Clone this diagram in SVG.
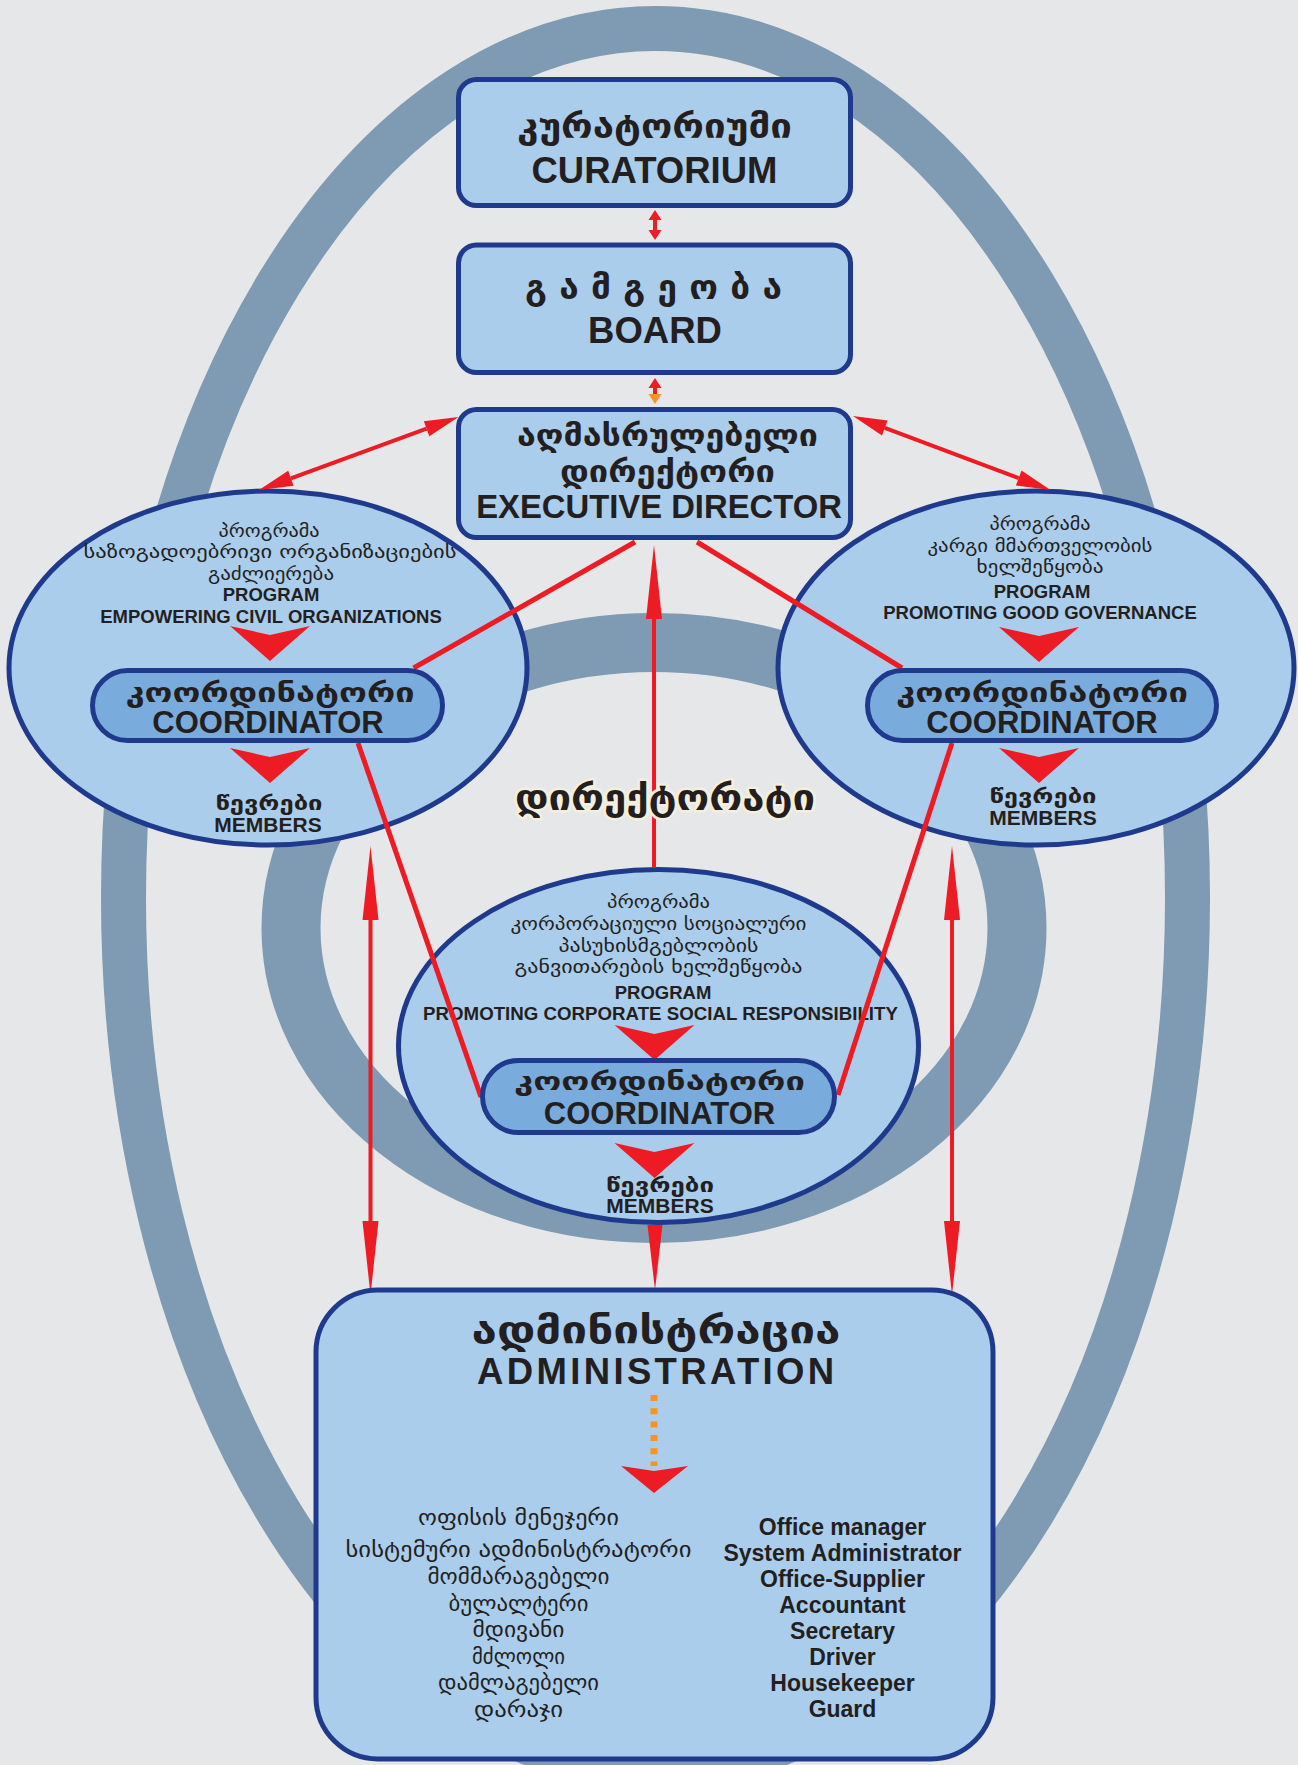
<svg xmlns="http://www.w3.org/2000/svg" width="1298" height="1765" viewBox="0 0 1298 1765">
<style>
.bg{fill:#e6e7e9}
.ring{fill:none;stroke:#7f9bb3}
.box{fill:#abcdec;stroke:#1f3a8c;stroke-width:5}
.pill{fill:#79acdd;stroke:#1f3a8c;stroke-width:5}
.en{font-family:"Liberation Sans",Arial,sans-serif;font-weight:bold;fill:#231f20;text-anchor:middle}
.ka{font-family:"DejaVu Sans","Noto Sans",sans-serif;fill:#231f20;text-anchor:middle}
.b{font-weight:bold}
.rl{stroke:#ed1c24;stroke-width:5;fill:none}
.ra{stroke:#ed1c24;stroke-width:4;fill:none}
.red{fill:#ed1c24}
.halo{stroke:#f4efdc;stroke-width:5;paint-order:stroke;stroke-linejoin:round}
</style>
<defs>
<marker id="hm" markerUnits="userSpaceOnUse" viewBox="0 -8 34 16" markerWidth="34" markerHeight="16" refX="0" refY="0" orient="auto-start-reverse" overflow="visible"><path d="M0,-8L34,0L0,8Z" fill="#ed1c24"/></marker>
<marker id="hl" markerUnits="userSpaceOnUse" viewBox="0 -8 74 16" markerWidth="74" markerHeight="16" refX="0" refY="0" orient="auto-start-reverse" overflow="visible"><path d="M0,-8L74,0L0,8Z" fill="#ed1c24"/></marker>
<marker id="hs" markerUnits="userSpaceOnUse" viewBox="0 -6.5 10 13" markerWidth="10" markerHeight="13" refX="0" refY="0" orient="auto-start-reverse" overflow="visible"><path d="M0,-6.5L10,0L0,6.5Z" fill="#ed1c24"/></marker>
<marker id="hso" markerUnits="userSpaceOnUse" viewBox="0 -6.5 10 13" markerWidth="10" markerHeight="13" refX="0" refY="0" orient="auto" overflow="visible"><path d="M0,-6.5L10,0L0,6.5Z" fill="#f7941d"/></marker>
<path id="chev" d="M-40,0L0,9L40,0L0,35Z" fill="#ed1c24"/>
</defs>

<rect class="bg" x="0" y="0" width="1298" height="1765"/>

<g id="rings">
<ellipse class="ring" cx="655.5" cy="898" rx="532" ry="869.6" stroke-width="45"/>
<ellipse class="ring" cx="654" cy="928" rx="363" ry="285.5" stroke-width="59"/>
</g>

<g id="node-curatorium">
<rect class="box" x="458.5" y="79.5" width="392" height="126" rx="18"/>
<text class="ka b" x="654.5" y="138" font-size="33" textLength="275" lengthAdjust="spacingAndGlyphs">კურატორიუმი</text>
<text class="en" x="654.5" y="183" font-size="36.5">CURATORIUM</text>
</g>

<g id="node-board">
<rect class="box" x="458.5" y="245" width="392" height="127.5" rx="18"/>
<text class="ka b" x="653.5" y="299" font-size="33" textLength="257" lengthAdjust="spacingAndGlyphs">გ ა მ გ ე ო ბ ა</text>
<text class="en" x="655" y="343" font-size="36.5">BOARD</text>
</g>

<g id="node-program-civil">
<ellipse class="box" cx="268" cy="668" rx="259" ry="177"/>
<text class="ka" x="269" y="537" font-size="18" textLength="101" lengthAdjust="spacingAndGlyphs">პროგრამა</text>
<text class="ka" x="270" y="558" font-size="18" textLength="373" lengthAdjust="spacingAndGlyphs">საზოგადოებრივი ორგანიზაციების</text>
<text class="ka" x="271" y="580" font-size="18" textLength="126" lengthAdjust="spacingAndGlyphs">გაძლიერება</text>
<text class="en" x="271" y="601" font-size="18.5">PROGRAM</text>
<text class="en" x="271" y="623" font-size="18.5">EMPOWERING CIVIL ORGANIZATIONS</text>
<use href="#chev" x="270" y="626"/>
<use href="#chev" x="270" y="748"/>
<text class="ka b" x="269" y="810" font-size="19" textLength="107" lengthAdjust="spacingAndGlyphs">წევრები</text>
<text class="en" x="268" y="832" font-size="21">MEMBERS</text>
</g>

<g id="node-program-governance">
<ellipse class="box" cx="1036" cy="668" rx="258" ry="177"/>
<text class="ka" x="1040" y="530" font-size="18" textLength="101" lengthAdjust="spacingAndGlyphs">პროგრამა</text>
<text class="ka" x="1040" y="552" font-size="18" textLength="225" lengthAdjust="spacingAndGlyphs">კარგი მმართველობის</text>
<text class="ka" x="1040" y="573" font-size="18" textLength="127" lengthAdjust="spacingAndGlyphs">ხელშეწყობა</text>
<text class="en" x="1042" y="598" font-size="18.5">PROGRAM</text>
<text class="en" x="1040" y="619" font-size="18.5">PROMOTING GOOD GOVERNANCE</text>
<use href="#chev" x="1039" y="627"/>
<use href="#chev" x="1039" y="748"/>
<text class="ka b" x="1043" y="803" font-size="19" textLength="107" lengthAdjust="spacingAndGlyphs">წევრები</text>
<text class="en" x="1043" y="825" font-size="21">MEMBERS</text>
</g>

<g id="node-program-csr">
<ellipse class="box" cx="658.5" cy="1046" rx="260" ry="176.5"/>
<text class="ka" x="658.5" y="908" font-size="18" textLength="103" lengthAdjust="spacingAndGlyphs">პროგრამა</text>
<text class="ka" x="658.5" y="930" font-size="18" textLength="296" lengthAdjust="spacingAndGlyphs">კორპორაციული სოციალური</text>
<text class="ka" x="658.5" y="952" font-size="18" textLength="200" lengthAdjust="spacingAndGlyphs">პასუხისმგებლობის</text>
<text class="ka" x="658.5" y="973" font-size="18" textLength="288" lengthAdjust="spacingAndGlyphs">განვითარების ხელშეწყობა</text>
<text class="en" x="663" y="999" font-size="18.5">PROGRAM</text>
<text class="en" x="660.5" y="1020" font-size="18.7">PROMOTING CORPORATE SOCIAL RESPONSIBILITY</text>
<use href="#chev" x="654.5" y="1025"/>
<use href="#chev" x="654.5" y="1143"/>
<text class="ka b" x="660" y="1192" font-size="19" textLength="108" lengthAdjust="spacingAndGlyphs">წევრები</text>
<text class="en" x="660" y="1213" font-size="21">MEMBERS</text>
</g>

<g id="connectors">
<line class="ra" x1="655" y1="220" x2="655" y2="230" stroke-width="3" marker-start="url(#hs)" marker-end="url(#hs)"/>
<line class="ra" x1="655" y1="388" x2="655" y2="394" stroke-width="3" marker-start="url(#hs)" marker-end="url(#hso)"/>
<line class="ra" x1="426.6" y1="428.7" x2="290.9" y2="478.3" marker-start="url(#hm)" marker-end="url(#hm)"/>
<line class="ra" x1="884.8" y1="427.9" x2="1018.7" y2="478.1" marker-start="url(#hm)" marker-end="url(#hm)"/>
<line class="rl" x1="635" y1="542" x2="413.6" y2="668"/>
<line class="rl" x1="697" y1="542" x2="902" y2="668"/>
<line class="rl" x1="358" y1="743" x2="481" y2="1097"/>
<line class="rl" x1="952" y1="743" x2="838" y2="1095"/>
<line class="ra" x1="654" y1="868" x2="654" y2="619" marker-end="url(#hl)"/>
<line class="ra" x1="370.5" y1="920" x2="370.5" y2="1221" marker-start="url(#hl)" marker-end="url(#hl)"/>
<line class="ra" x1="952" y1="920" x2="952" y2="1221" marker-start="url(#hl)" marker-end="url(#hl)"/>
<polygon class="red" points="647.5,1225 662.5,1225 655,1290"/>
</g>

<g id="node-directorate">
<text class="ka b halo" x="665" y="810" font-size="36" textLength="300" lengthAdjust="spacingAndGlyphs">დირექტორატი</text>
</g>

<g id="node-executive-director">
<rect class="box" x="458.5" y="409.5" width="392" height="128" rx="18"/>
<text class="ka b" x="667.5" y="446" font-size="30" textLength="301" lengthAdjust="spacingAndGlyphs">აღმასრულებელი</text>
<text class="ka b" x="667.5" y="482" font-size="30" textLength="215" lengthAdjust="spacingAndGlyphs">დირექტორი</text>
<text class="en" x="659" y="518" font-size="32.8">EXECUTIVE DIRECTOR</text>
</g>

<g id="node-coordinator-civil">
<rect class="pill" x="92.5" y="670.5" width="350" height="70" rx="35"/>
<text class="ka b" x="270" y="702" font-size="26" textLength="289" lengthAdjust="spacingAndGlyphs">კოორდინატორი</text>
<text class="en" x="268" y="733" font-size="31">COORDINATOR</text>
</g>

<g id="node-coordinator-governance">
<rect class="pill" x="867.5" y="670.5" width="349" height="70" rx="35"/>
<text class="ka b" x="1042" y="702" font-size="26" textLength="292" lengthAdjust="spacingAndGlyphs">კოორდინატორი</text>
<text class="en" x="1042" y="733" font-size="31">COORDINATOR</text>
</g>

<g id="node-coordinator-csr">
<rect class="pill" x="482.5" y="1060.5" width="352" height="72" rx="36"/>
<text class="ka b" x="659.5" y="1090" font-size="25" textLength="291" lengthAdjust="spacingAndGlyphs">კოორდინატორი</text>
<text class="en" x="659.5" y="1124" font-size="31">COORDINATOR</text>
</g>

<g id="node-administration">
<rect class="box" x="316" y="1290" width="677" height="469" rx="62" stroke-width="6"/>
<text class="ka b" x="656" y="1343" font-size="38" textLength="369" lengthAdjust="spacingAndGlyphs">ადმინისტრაცია</text>
<text class="en" x="655.6" y="1384" font-size="36.5" textLength="357" lengthAdjust="spacing">ADMINISTRATION</text>
<line x1="654" y1="1395" x2="654" y2="1466" stroke="#f7941d" stroke-width="7" stroke-dasharray="6 7.3"/>
<polygon class="red" points="621,1466 654,1471 688,1466 654,1493"/>
<g class="ka" font-size="21">
<text x="518.5" y="1525" textLength="201" lengthAdjust="spacingAndGlyphs">ოფისის მენეჯერი</text>
<text x="518.5" y="1557" textLength="346" lengthAdjust="spacingAndGlyphs">სისტემური  ადმინისტრატორი</text>
<text x="518.5" y="1584" textLength="182" lengthAdjust="spacingAndGlyphs">მომმარაგებელი</text>
<text x="518.5" y="1611" textLength="140" lengthAdjust="spacingAndGlyphs">ბულალტერი</text>
<text x="518.5" y="1637" textLength="92" lengthAdjust="spacingAndGlyphs">მდივანი</text>
<text x="518.5" y="1664" textLength="93" lengthAdjust="spacingAndGlyphs">მძლოლი</text>
<text x="518.5" y="1690" textLength="161" lengthAdjust="spacingAndGlyphs">დამლაგებელი</text>
<text x="518.5" y="1717" textLength="89" lengthAdjust="spacingAndGlyphs">დარაჯი</text>
</g>
<g class="en" font-size="23">
<text x="842.5" y="1535">Office manager</text>
<text x="842.5" y="1561">System Administrator</text>
<text x="842.5" y="1587">Office-Supplier</text>
<text x="842.5" y="1613">Accountant</text>
<text x="842.5" y="1639">Secretary</text>
<text x="842.5" y="1665">Driver</text>
<text x="842.5" y="1691">Housekeeper</text>
<text x="842.5" y="1717">Guard</text>
</g>
</g>
</svg>
